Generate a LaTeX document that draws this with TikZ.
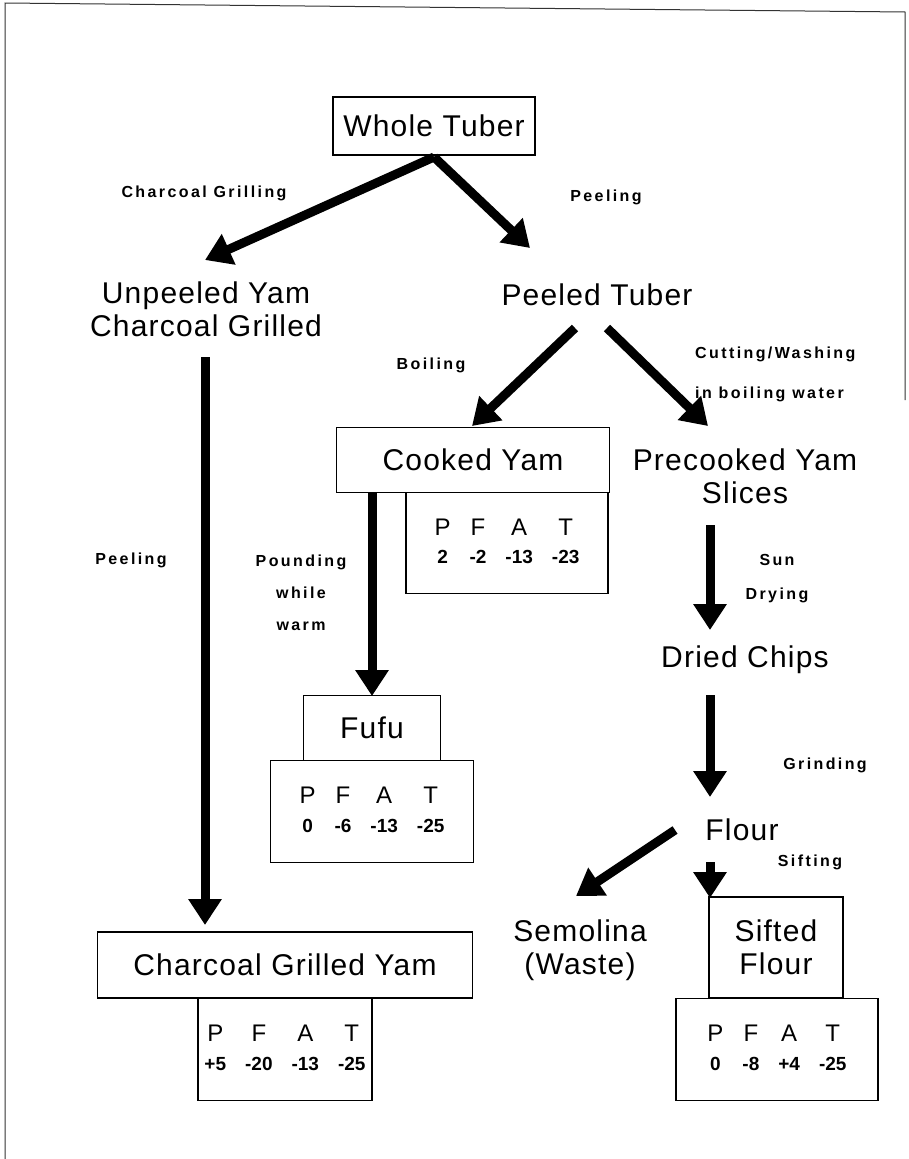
\documentclass[tikz,border=0pt]{standalone}
\usepackage{fontspec}
\setmainfont{Liberation Sans}
\usepackage{tikz}
\usetikzlibrary{arrows.meta,calc}

\newfontfamily\labfont[LetterSpace=15]{Liberation Sans}
\newfontfamily\bigfont[LetterSpace=4]{Liberation Sans}

\newcommand{\pfat}[4]{%
  \begin{tabular}{@{}c@{\hspace{19pt}}c@{\hspace{19pt}}c@{\hspace{19pt}}c@{}}
  \fontsize{24}{26}\selectfont P & \fontsize{24}{26}\selectfont F &
  \fontsize{24}{26}\selectfont A & \fontsize{24}{26}\selectfont T\\[12pt]
  \fontsize{19}{21}\selectfont\bfseries #1 & \fontsize{19}{21}\selectfont\bfseries #2 &
  \fontsize{19}{21}\selectfont\bfseries #3 & \fontsize{19}{21}\selectfont\bfseries #4
  \end{tabular}}

\tikzset{
  stage/.style={font=\bigfont\fontsize{30}{33}\selectfont, align=center, inner sep=0pt},
  box/.style={stage, draw, line width=1.2pt},
  pfatbox/.style={draw, line width=1.2pt, inner sep=0pt, anchor=north},
  proc/.style={font=\labfont\bfseries\fontsize{16}{18}\selectfont, inner sep=0pt},
  flow/.style={line width=9pt, -{Triangle[length=26pt,width=32pt]}}
}

\begin{document}
\begin{tikzpicture}[x=1pt, y=-1pt]
  \useasboundingbox (0,0) rectangle (909,1159);
  % frame (top, left and part of right edge)
  \draw[line width=1pt, black!80] (5,1159) -- (5,3) -- (905,12) -- (905,400);

  % stages
  \node[box, minimum width=202, minimum height=58] (whole) at (434,126) {Whole Tuber};
  \node[stage] (unpeeled) at (206,309) {Unpeeled Yam\\Charcoal Grilled};
  \node[stage] (peeled) at (597,295) {Peeled Tuber};
  \node[box, minimum width=273, minimum height=65] (cooked) at (473,460) {Cooked Yam};
  \node[pfatbox, minimum width=202, minimum height=101] (cookedv) at (507,492) {\pfat{2}{-2}{-13}{-23}};
  \node[stage] (precooked) at (745,476) {Precooked Yam\\Slices};
  \node[stage] (chips) at (745,660) {Dried Chips};
  \node[stage] (flour) at (742,830) {Flour};
  \node[box, minimum width=137, minimum height=65] (fufu) at (372,728) {Fufu};
  \node[pfatbox, minimum width=203, minimum height=102] (fufuv) at (372,760) {\pfat{0}{-6}{-13}{-25}};
  \node[box, minimum width=375, minimum height=66] (grilled) at (285,965) {Charcoal Grilled Yam};
  \node[pfatbox, minimum width=174, minimum height=102] (grilledv) at (285,998) {\pfat{+5}{-20}{-13}{-25}};
  \node[stage] (semolina) at (580,950) {Semolina\\(Waste)};
  \node[box, minimum width=134, minimum height=101] (sifted) at (776,947.5) {Sifted\\Flour};
  \node[pfatbox, minimum width=202, minimum height=102] (siftedv) at (777,998) {\pfat{0}{-8}{+4}{-25}};

  % processes
  \node[proc] (grilling) at (204,193) {Charcoal Grilling};
  \node[proc] (peeling) at (606,197) {Peeling};
  \node[proc] (peeling2) at (131,560) {Peeling};
  \node[proc] (boiling) at (431,365) {Boiling};
  \node[proc, anchor=west] (cutting) at (695,354) {Cutting/Washing};
  \node[proc, anchor=west] (inwater) at (695,394) {in boiling water};
  \node[proc, align=center] (pounding) at (301,593) {Pounding\\[14pt]while\\[14pt]warm};
  \node[proc] (sun) at (777,560) {Sun};
  \node[proc] (drying) at (777,595) {Drying};
  \node[proc] (grinding) at (825,765) {Grinding};
  \node[proc] (sifting) at (810,862) {Sifting};

  \coordinate (wt) at (434,157);
  \coordinate (pt) at (591,328);
  \coordinate (fl) at (675,830);
  \path[flow]
  (wt) edge (205,260)
       edge (530,248)
  ($(pt)+(-16,0)$) edge (472,426)
  ($(pt)+(16,0)$) edge (708,426)
  (205,357) edge (205,925)
  (372,492) edge (372,696)
  (710,525) edge (710,630)
  (710,695) edge (710,797)
  (fl) edge (576,896)
  (710,862) edge (710,898);
\end{tikzpicture}
\end{document}
